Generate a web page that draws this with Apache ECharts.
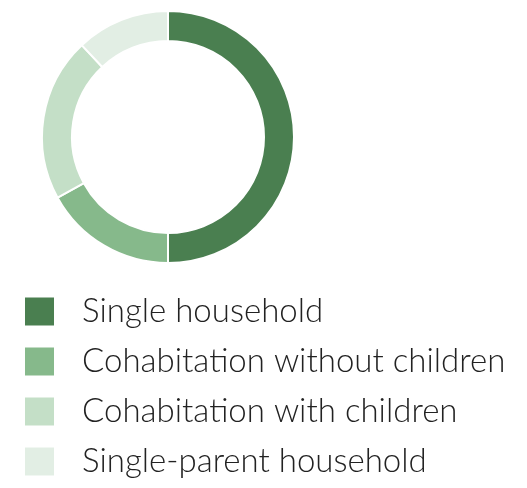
<!DOCTYPE html>
<html><head><meta charset="utf-8">
<script src="https://cdn.jsdelivr.net/npm/echarts@6/dist/echarts.min.js"></script>
<style>html,body{margin:0;padding:0;background:#fff}#c{width:527px;height:488px}</style>
</head><body><div id="c"></div>
<script>
const categories = ["Single household", "Cohabitation without children", "Cohabitation with children", "Single-parent household"];
const values = [50, 17, 21, 12];
const colors = ["#4a7f50", "#86b98b", "#c4dfc7", "#e2eee4"];
const chart = echarts.init(document.getElementById('c'));
chart.setOption({
  animation: false,
  legend: {
    orient: 'vertical', left: 23, top: 295, padding: 0, height: 200,
    itemWidth: 31, itemHeight: 30, itemGap: 17,
    icon: 'rect',
    data: categories,
    textStyle: { fontFamily: 'Lato', fontWeight: 300, fontSize: 33, lineHeight: 30, color: '#222', padding: [0,0,0,22] }
  },
  series: [{
    type: 'pie',
    center: [168, 137],
    radius: [96, 126],
    startAngle: 90,
    clockwise: true,
    label: { show: false },
    labelLine: { show: false },
    itemStyle: { borderColor: '#fff', borderWidth: 2 },
    data: categories.map((n, i) => ({ name: n, value: values[i], itemStyle: { color: colors[i] } }))
  }]
});
</script></body></html>
